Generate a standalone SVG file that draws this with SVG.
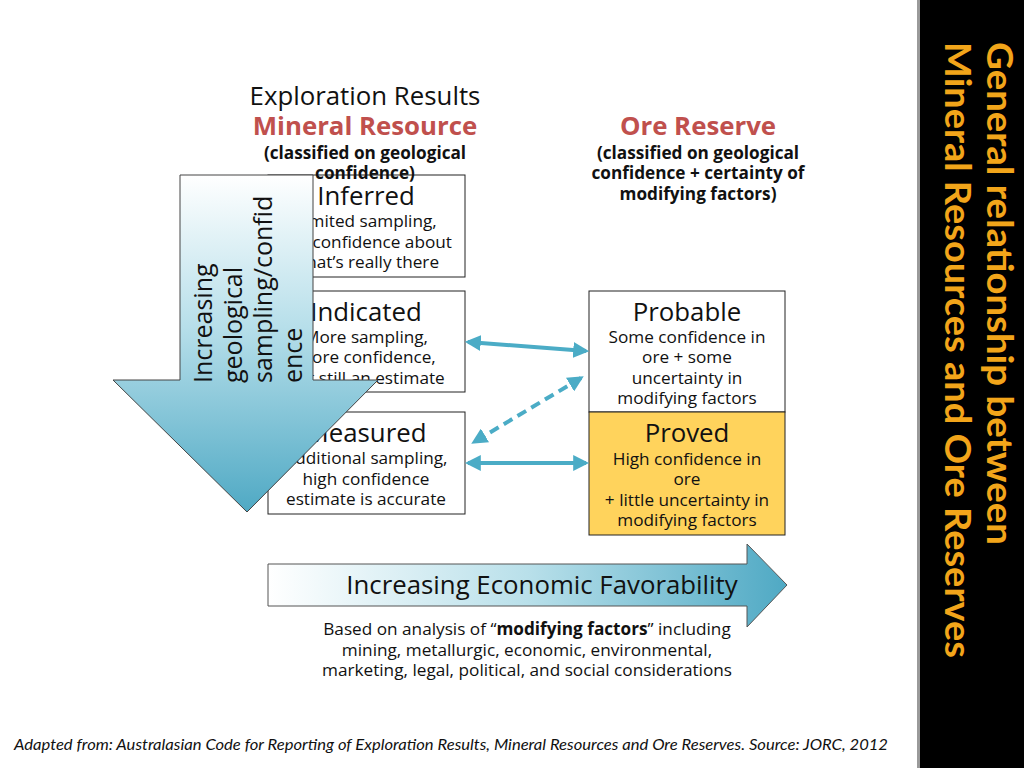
<svg xmlns="http://www.w3.org/2000/svg" width="1024" height="768" viewBox="0 0 1024 768">
<defs>
<style>
.t{font-family:"Open Sans","Noto Sans","DejaVu Sans",sans-serif;fill:#111}
.h24{font-size:25.8px}
.s16{font-size:17.2px}
.b{font-weight:bold}
.red{fill:#c0504d;font-weight:bold;font-size:25.8px}
.box{stroke:#222;stroke-width:1}
.con{stroke:#4bacc6;stroke-width:4;fill:none}
</style>
<linearGradient id="gDown" x1="0" y1="0" x2="0" y2="1">
<stop offset="0" stop-color="#ffffff"/>
<stop offset="0.45" stop-color="#b7dfea"/>
<stop offset="1" stop-color="#4fa9c4"/>
</linearGradient>
<linearGradient id="gRight" x1="0" y1="0" x2="1" y2="0">
<stop offset="0" stop-color="#ffffff"/>
<stop offset="0.5" stop-color="#b9e0ea"/>
<stop offset="1" stop-color="#4fa9c4"/>
</linearGradient>
<marker id="ah" viewBox="0 0 10 10" refX="8" refY="5" markerWidth="4" markerHeight="4" orient="auto-start-reverse" markerUnits="strokeWidth">
<path d="M0,0 L10,5 L0,10 Z" fill="#4bacc6"/>
</marker>
</defs>
<rect width="1024" height="768" fill="#ffffff"/>

<!-- title bar -->
<g id="titlebar">
<rect x="918" y="0" width="106" height="768" fill="#000"/>
<rect x="917" y="0" width="3" height="768" fill="#9a9a9a"/>
<text transform="translate(987,42) rotate(90)" font-family="Lato,'Liberation Sans',sans-serif" font-weight="bold" font-size="36" fill="#f2a51a" textLength="503" lengthAdjust="spacingAndGlyphs">General relationship between</text>
<text transform="translate(945,42) rotate(90)" font-family="Lato,'Liberation Sans',sans-serif" font-weight="bold" font-size="36" fill="#f2a51a" textLength="616" lengthAdjust="spacingAndGlyphs">Mineral Resources and Ore Reserves</text>
</g>

<!-- resource boxes -->
<g id="inferred">
<rect class="box" x="268" y="175" width="197" height="102" fill="#fff"/>
<text class="t h24" x="366" y="205" text-anchor="middle">Inferred</text>
<text class="t s16" x="366" y="227" text-anchor="middle">Limited sampling,</text>
<text class="t s16" x="366" y="248" text-anchor="middle">low confidence about</text>
<text class="t s16" x="366" y="268" text-anchor="middle">what’s really there</text>
</g>
<g id="indicated">
<rect class="box" x="268" y="291" width="197" height="101" fill="#fff"/>
<text class="t h24" x="366" y="321" text-anchor="middle">Indicated</text>
<text class="t s16" x="366" y="343" text-anchor="middle">More sampling,</text>
<text class="t s16" x="366" y="363" text-anchor="middle">more confidence,</text>
<text class="t s16" x="366" y="384" text-anchor="middle">but still an estimate</text>
</g>
<g id="measured">
<rect class="box" x="268" y="412" width="197" height="102" fill="#fff"/>
<text class="t h24" x="366" y="442" text-anchor="middle">Measured</text>
<text class="t s16" x="366" y="464" text-anchor="middle">Additional sampling,</text>
<text class="t s16" x="366" y="485" text-anchor="middle">high confidence</text>
<text class="t s16" x="366" y="505" text-anchor="middle">estimate is accurate</text>
</g>

<!-- reserve boxes -->
<g id="probable">
<rect class="box" x="589" y="291" width="196" height="121" fill="#fff"/>
<text class="t h24" x="687" y="321" text-anchor="middle">Probable</text>
<text class="t s16" x="687" y="343" text-anchor="middle">Some confidence in</text>
<text class="t s16" x="687" y="363" text-anchor="middle">ore + some</text>
<text class="t s16" x="687" y="384" text-anchor="middle">uncertainty in</text>
<text class="t s16" x="687" y="404" text-anchor="middle">modifying factors</text>
</g>
<g id="proved">
<rect class="box" x="589" y="412" width="196" height="123" fill="#ffd35c"/>
<text class="t h24" x="687" y="442" text-anchor="middle">Proved</text>
<text class="t s16" x="687" y="465" text-anchor="middle">High confidence in</text>
<text class="t s16" x="687" y="485" text-anchor="middle">ore</text>
<text class="t s16" x="687" y="506" text-anchor="middle">+ little uncertainty in</text>
<text class="t s16" x="687" y="526" text-anchor="middle">modifying factors</text>
</g>

<!-- headers -->
<g id="headers">
<text class="t h24" x="365" y="105" text-anchor="middle">Exploration Results</text>
<text class="t red" x="365" y="135" text-anchor="middle">Mineral Resource</text>
<text class="t s16 b" x="365" y="159" text-anchor="middle">(classified on geological</text>
<text class="t s16 b" x="365" y="179" text-anchor="middle">confidence)</text>
<text class="t red" x="698" y="135" text-anchor="middle">Ore Reserve</text>
<text class="t s16 b" x="698" y="159" text-anchor="middle">(classified on geological</text>
<text class="t s16 b" x="698" y="179" text-anchor="middle">confidence + certainty of</text>
<text class="t s16 b" x="698" y="200" text-anchor="middle">modifying factors)</text>
</g>

<!-- down arrow -->
<g id="downArrow">
<path d="M180,175 L313,175 L313,380 L378,380 L247,512 L113,380 L180,380 Z" fill="url(#gDown)" stroke="#444" stroke-width="1"/>
<g transform="translate(180,383) rotate(-90)" font-size="25">
<text class="t" x="0" y="32">Increasing</text>
<text class="t" x="0" y="62">geological</text>
<text class="t" x="0" y="92">sampling/confid</text>
<text class="t" x="0" y="122">ence</text>
</g>
</g>

<!-- connectors -->
<g id="connectors">
<line class="con" x1="468" y1="342" x2="586" y2="351" marker-start="url(#ah)" marker-end="url(#ah)"/>
<line class="con" x1="581" y1="378" x2="474" y2="442" stroke-dasharray="10,6" marker-start="url(#ah)" marker-end="url(#ah)"/>
<line class="con" x1="468" y1="463" x2="586" y2="463" marker-start="url(#ah)" marker-end="url(#ah)"/>
</g>

<!-- right arrow -->
<g id="rightArrow">
<path d="M268,564 L747,564 L747,544 L787,585 L747,627 L747,606 L268,606 Z" fill="url(#gRight)" stroke="#555" stroke-width="1"/>
<text class="t h24" x="542" y="594" text-anchor="middle">Increasing Economic Favorability</text>
</g>

<g id="note">
<text class="t s16" x="527" y="635" text-anchor="middle">Based on analysis of “<tspan font-weight="bold">modifying factors</tspan>” including</text>
<text class="t s16" x="527" y="656" text-anchor="middle">mining, metallurgic, economic, environmental,</text>
<text class="t s16" x="527" y="676" text-anchor="middle">marketing, legal, political, and social considerations</text>
</g>

<g id="footer">
<text x="14" y="750" font-family="Lato,'Liberation Sans',sans-serif" font-style="italic" font-size="15" fill="#111" textLength="874" lengthAdjust="spacingAndGlyphs">Adapted from: Australasian Code for Reporting of Exploration Results, Mineral Resources and Ore Reserves. Source: JORC, 2012</text>
</g>
</svg>
